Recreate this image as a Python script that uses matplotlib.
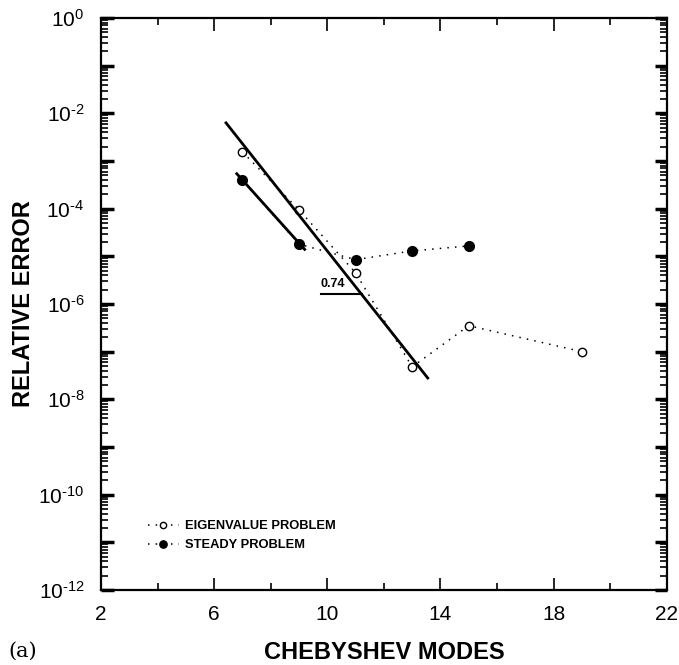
import numpy as np
import matplotlib
matplotlib.use("Agg")
import matplotlib.pyplot as plt
from matplotlib.ticker import FixedLocator, NullFormatter

plt.rcParams['font.family'] = ['Liberation Sans', 'DejaVu Sans']
plt.rcParams['mathtext.fontset'] = 'custom'
plt.rcParams['mathtext.rm'] = 'Liberation Sans'
plt.rcParams['axes.unicode_minus'] = False

# data
eig_modes = [7, 9, 11, 13, 15, 19]
eig_err = [1.55e-3, 9.4e-5, 4.5e-6, 4.8e-8, 3.5e-7, 1.0e-7]

steady_modes = [7, 9, 11, 13, 15]
steady_err = [4.0e-4, 1.8e-5, 8.5e-6, 1.3e-5, 1.65e-5]

# fitted slope lines (end points)
eig_fit_x = [6.42, 13.55]
eig_fit_y = [6.3e-3, 2.8e-8]
steady_fit_x = [6.8, 9.2]
steady_fit_y = [5.4e-4, 1.4e-5]

x_ticks = [2, 6, 10, 14, 18, 22]
y_exps = list(range(-12, 1))


def exp_label(e):
    # short hyphen for the minus, as in the original figure
    if e == 0:
        return r'$\mathregular{10^{0}}$'
    return r'$\mathregular{10^{\text{-}%d}}$' % (-e)


fig = plt.figure(figsize=(6.79, 6.65), dpi=100)
ax = fig.add_axes([0.1487, 0.1128, 0.8333, 0.8602])

dots = (0, (1, 4))
ax.plot(eig_modes, eig_err, linestyle=dots, color='black', lw=1.1,
        marker='o', mfc='white', mec='black', ms=6, mew=1,
        label='EIGENVALUE PROBLEM')
ax.plot(steady_modes, steady_err, linestyle=dots, color='black', lw=1.1,
        marker='o', mfc='black', mec='black', ms=7,
        label='STEADY PROBLEM')

ax.plot(eig_fit_x, eig_fit_y, color='black', lw=2)
ax.plot(steady_fit_x, steady_fit_y, color='black', lw=2)

# slope marker
ax.plot([9.77, 11.22], [1.6e-6, 1.6e-6], color='black', lw=1.5)
ax.text(9.75, 2.3e-6, '0.74', fontsize=9, fontweight='bold')

ax.set_yscale('log')
ax.set_xlim(2, 22)
ax.set_ylim(1e-12, 1)

ax.set_xticks(x_ticks)
ax.xaxis.set_minor_locator(FixedLocator(np.arange(2, 23, 2)))
ax.set_yticks([10.0 ** e for e in y_exps])
ax.set_yticklabels([exp_label(e) if e % 2 == 0 else '' for e in y_exps])
minor = [m * 10.0 ** e for e in range(-12, 0) for m in range(2, 10)]
ax.yaxis.set_minor_locator(FixedLocator(minor))
ax.yaxis.set_minor_formatter(NullFormatter())

ax.tick_params(which='both', direction='in', top=True, right=True,
               labelsize=15, width=1.2)
ax.tick_params(axis='y', which='major', length=9, width=2.5, pad=12)
ax.tick_params(axis='y', which='minor', length=5, width=1.2)
ax.tick_params(axis='x', which='major', length=9, pad=11)
ax.tick_params(axis='x', which='minor', length=5)
for s in ax.spines.values():
    s.set_linewidth(1.6)

ax.set_xlabel('CHEBYSHEV MODES', fontsize=17, fontweight='bold')
ax.xaxis.set_label_coords(0.5, -0.09)
ax.set_ylabel('RELATIVE ERROR', fontsize=17, fontweight='bold')
ax.yaxis.set_label_coords(-0.117, 0.5)

ax.legend(loc='lower left', bbox_to_anchor=(0.062, 0.047), frameon=False,
          handlelength=2.4, handletextpad=0.5, labelspacing=0.55,
          markerscale=0.75, prop={'weight': 'bold', 'size': 9.3})

fig.text(0.013, 0.012, '(a)', fontsize=15, family='DejaVu Serif')

fig.savefig('out.png', dpi=100)
